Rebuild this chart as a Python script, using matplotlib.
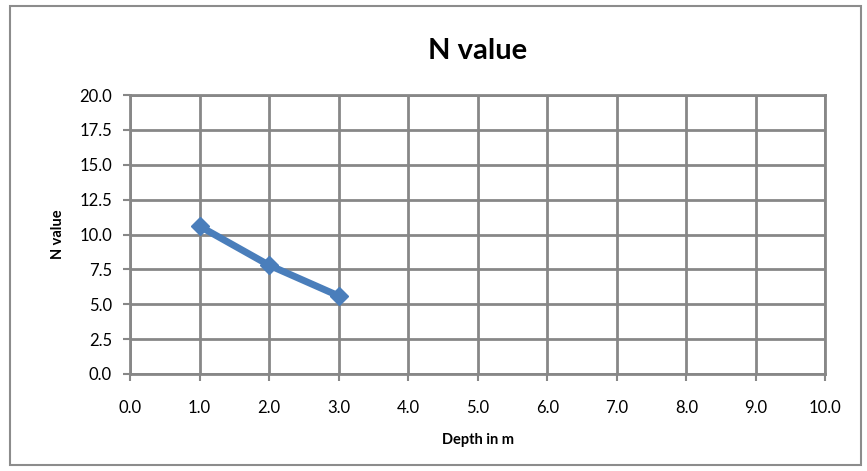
import matplotlib
matplotlib.use('Agg')
import matplotlib.pyplot as plt
from matplotlib.patches import Rectangle

# Data
depth = [1.0, 2.0, 3.0]
n_value = [10.6, 7.8, 5.6]
x_ticks = [0, 1, 2, 3, 4, 5, 6, 7, 8, 9, 10]
y_ticks = [0, 2.5, 5, 7.5, 10, 12.5, 15, 17.5, 20]

plt.rcParams['font.family'] = ['Lato', 'DejaVu Sans']

fig = plt.figure(figsize=(8.67, 4.71), dpi=100)
ax = fig.add_axes([0.150, 0.206, 0.802, 0.592])

# Outer chart border
fig.patches.append(Rectangle((0.011, 0.013), 0.982, 0.975, transform=fig.transFigure,
                             fill=False, edgecolor='#8c8c8c', linewidth=1.5))

ax.plot(depth, n_value, color='#4a7ebb', linewidth=5, marker='D', markersize=9,
        markerfacecolor='#4a7ebb', markeredgecolor='#4a7ebb', zorder=3, clip_on=False)

ax.set_xlim(0, 10)
ax.set_ylim(0, 20)
ax.set_xticks(x_ticks)
ax.set_yticks(y_ticks)
ax.set_xticklabels([f'{v:.1f}' for v in x_ticks])
ax.set_yticklabels([f'{v:.1f}' for v in y_ticks])

ax.grid(True, color='#878787', linewidth=2)
ax.set_axisbelow(True)
for s in ax.spines.values():
    s.set_color('#878787')
    s.set_linewidth(2)

ax.tick_params(axis='both', direction='out', length=5, width=1.5, color='#878787',
               labelsize=12)
ax.tick_params(axis='x', pad=14)
ax.tick_params(axis='y', pad=8)

ax.set_title('N value', fontsize=21, fontweight='bold', pad=26)
ax.set_xlabel('Depth in m', fontsize=10.5, fontweight='bold', labelpad=12)
ax.set_ylabel('N value', fontsize=10.5, fontweight='bold', labelpad=10)

fig.savefig('out.png', dpi=100)
